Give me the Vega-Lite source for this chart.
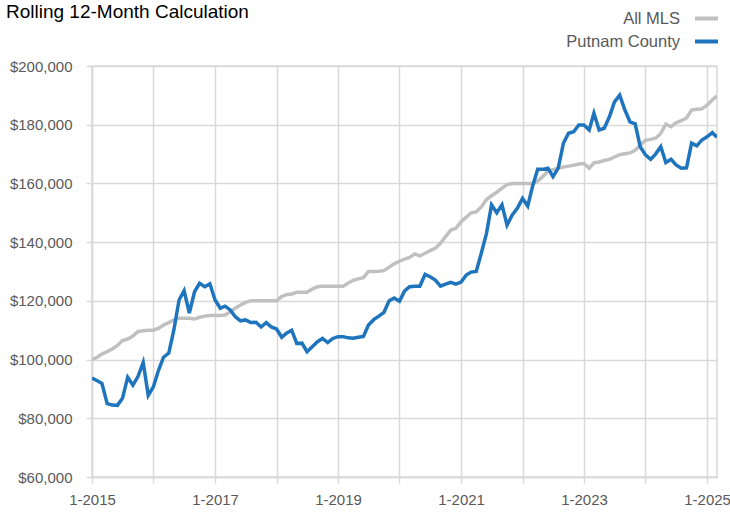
{
  "$schema": "https://vega.github.io/schema/vega-lite/v6.json",
  "width": 625,
  "height": 411,
  "autosize": {"type": "none"},
  "padding": {"left": 92, "top": 66, "right": 13, "bottom": 37},
  "background": "white",
  "config": {
    "font": "Liberation Sans, Arial, sans-serif",
    "view": {"stroke": "#d9d9d9", "strokeWidth": 1.5}
  },
  "title": {
    "text": "Rolling 12-Month Calculation",
    "anchor": "start",
    "frame": "group",
    "dx": -86,
    "dy": 21,
    "fontSize": 19,
    "fontWeight": "normal",
    "color": "#000000",
    "font": "Liberation Sans, Arial, sans-serif"
  },
  "data": {
    "values": [
      {"date": "2015-01", "All MLS": 100000, "Putnam County": 93700},
      {"date": "2015-02", "All MLS": 100800, "Putnam County": 92800},
      {"date": "2015-03", "All MLS": 101900, "Putnam County": 91900},
      {"date": "2015-04", "All MLS": 102700, "Putnam County": 85000},
      {"date": "2015-05", "All MLS": 103600, "Putnam County": 84500},
      {"date": "2015-06", "All MLS": 104800, "Putnam County": 84400},
      {"date": "2015-07", "All MLS": 106500, "Putnam County": 86800},
      {"date": "2015-08", "All MLS": 107000, "Putnam County": 94000},
      {"date": "2015-09", "All MLS": 108000, "Putnam County": 91300},
      {"date": "2015-10", "All MLS": 109600, "Putnam County": 94200},
      {"date": "2015-11", "All MLS": 109800, "Putnam County": 99000},
      {"date": "2015-12", "All MLS": 110000, "Putnam County": 87800},
      {"date": "2016-01", "All MLS": 110000, "Putnam County": 90800},
      {"date": "2016-02", "All MLS": 110700, "Putnam County": 96500},
      {"date": "2016-03", "All MLS": 111800, "Putnam County": 100800},
      {"date": "2016-04", "All MLS": 112600, "Putnam County": 102200},
      {"date": "2016-05", "All MLS": 113500, "Putnam County": 110000},
      {"date": "2016-06", "All MLS": 114100, "Putnam County": 120300},
      {"date": "2016-07", "All MLS": 114100, "Putnam County": 123500},
      {"date": "2016-08", "All MLS": 114100, "Putnam County": 115800},
      {"date": "2016-09", "All MLS": 113800, "Putnam County": 123100},
      {"date": "2016-10", "All MLS": 114400, "Putnam County": 126000},
      {"date": "2016-11", "All MLS": 114800, "Putnam County": 124800},
      {"date": "2016-12", "All MLS": 115000, "Putnam County": 125800},
      {"date": "2017-01", "All MLS": 115000, "Putnam County": 120300},
      {"date": "2017-02", "All MLS": 115000, "Putnam County": 117500},
      {"date": "2017-03", "All MLS": 115200, "Putnam County": 118200},
      {"date": "2017-04", "All MLS": 116300, "Putnam County": 116900},
      {"date": "2017-05", "All MLS": 117500, "Putnam County": 114600},
      {"date": "2017-06", "All MLS": 118600, "Putnam County": 113200},
      {"date": "2017-07", "All MLS": 119500, "Putnam County": 113500},
      {"date": "2017-08", "All MLS": 120000, "Putnam County": 112600},
      {"date": "2017-09", "All MLS": 120000, "Putnam County": 112700},
      {"date": "2017-10", "All MLS": 120000, "Putnam County": 111100},
      {"date": "2017-11", "All MLS": 120000, "Putnam County": 112600},
      {"date": "2017-12", "All MLS": 120000, "Putnam County": 111100},
      {"date": "2018-01", "All MLS": 120000, "Putnam County": 110400},
      {"date": "2018-02", "All MLS": 121500, "Putnam County": 107600},
      {"date": "2018-03", "All MLS": 122100, "Putnam County": 109000},
      {"date": "2018-04", "All MLS": 122300, "Putnam County": 110000},
      {"date": "2018-05", "All MLS": 122900, "Putnam County": 105500},
      {"date": "2018-06", "All MLS": 122900, "Putnam County": 105600},
      {"date": "2018-07", "All MLS": 122900, "Putnam County": 102700},
      {"date": "2018-08", "All MLS": 124000, "Putnam County": 104400},
      {"date": "2018-09", "All MLS": 124800, "Putnam County": 106100},
      {"date": "2018-10", "All MLS": 125000, "Putnam County": 107200},
      {"date": "2018-11", "All MLS": 125000, "Putnam County": 105800},
      {"date": "2018-12", "All MLS": 125000, "Putnam County": 107200},
      {"date": "2019-01", "All MLS": 125000, "Putnam County": 107800},
      {"date": "2019-02", "All MLS": 125000, "Putnam County": 107800},
      {"date": "2019-03", "All MLS": 126000, "Putnam County": 107400},
      {"date": "2019-04", "All MLS": 127000, "Putnam County": 107300},
      {"date": "2019-05", "All MLS": 127500, "Putnam County": 107600},
      {"date": "2019-06", "All MLS": 127900, "Putnam County": 107900},
      {"date": "2019-07", "All MLS": 130000, "Putnam County": 111800},
      {"date": "2019-08", "All MLS": 130000, "Putnam County": 113600},
      {"date": "2019-09", "All MLS": 130100, "Putnam County": 114800},
      {"date": "2019-10", "All MLS": 130300, "Putnam County": 116100},
      {"date": "2019-11", "All MLS": 131500, "Putnam County": 120000},
      {"date": "2019-12", "All MLS": 132600, "Putnam County": 121000},
      {"date": "2020-01", "All MLS": 133500, "Putnam County": 119900},
      {"date": "2020-02", "All MLS": 134200, "Putnam County": 123400},
      {"date": "2020-03", "All MLS": 134800, "Putnam County": 124800},
      {"date": "2020-04", "All MLS": 136000, "Putnam County": 125000},
      {"date": "2020-05", "All MLS": 135300, "Putnam County": 125000},
      {"date": "2020-06", "All MLS": 136200, "Putnam County": 129000},
      {"date": "2020-07", "All MLS": 137100, "Putnam County": 128200},
      {"date": "2020-08", "All MLS": 137900, "Putnam County": 127100},
      {"date": "2020-09", "All MLS": 139600, "Putnam County": 125000},
      {"date": "2020-10", "All MLS": 141900, "Putnam County": 125700},
      {"date": "2020-11", "All MLS": 144100, "Putnam County": 126300},
      {"date": "2020-12", "All MLS": 144700, "Putnam County": 125700},
      {"date": "2021-01", "All MLS": 147000, "Putnam County": 126400},
      {"date": "2021-02", "All MLS": 148500, "Putnam County": 128800},
      {"date": "2021-03", "All MLS": 150000, "Putnam County": 129800},
      {"date": "2021-04", "All MLS": 150300, "Putnam County": 130000},
      {"date": "2021-05", "All MLS": 152000, "Putnam County": 136200},
      {"date": "2021-06", "All MLS": 154500, "Putnam County": 143000},
      {"date": "2021-07", "All MLS": 155800, "Putnam County": 152700},
      {"date": "2021-08", "All MLS": 157000, "Putnam County": 150000},
      {"date": "2021-09", "All MLS": 158400, "Putnam County": 152700},
      {"date": "2021-10", "All MLS": 159600, "Putnam County": 145800},
      {"date": "2021-11", "All MLS": 160000, "Putnam County": 149300},
      {"date": "2021-12", "All MLS": 160000, "Putnam County": 151500},
      {"date": "2022-01", "All MLS": 160000, "Putnam County": 154900},
      {"date": "2022-02", "All MLS": 160000, "Putnam County": 152300},
      {"date": "2022-03", "All MLS": 160000, "Putnam County": 158900},
      {"date": "2022-04", "All MLS": 160800, "Putnam County": 164800},
      {"date": "2022-05", "All MLS": 162300, "Putnam County": 164800},
      {"date": "2022-06", "All MLS": 164200, "Putnam County": 165200},
      {"date": "2022-07", "All MLS": 164700, "Putnam County": 162300},
      {"date": "2022-08", "All MLS": 165200, "Putnam County": 165200},
      {"date": "2022-09", "All MLS": 165600, "Putnam County": 173700},
      {"date": "2022-10", "All MLS": 165900, "Putnam County": 177100},
      {"date": "2022-11", "All MLS": 166200, "Putnam County": 177600},
      {"date": "2022-12", "All MLS": 166600, "Putnam County": 179900},
      {"date": "2023-01", "All MLS": 166800, "Putnam County": 179900},
      {"date": "2023-02", "All MLS": 165200, "Putnam County": 178200},
      {"date": "2023-03", "All MLS": 167000, "Putnam County": 183900},
      {"date": "2023-04", "All MLS": 167300, "Putnam County": 178200},
      {"date": "2023-05", "All MLS": 167800, "Putnam County": 178800},
      {"date": "2023-06", "All MLS": 168200, "Putnam County": 182700},
      {"date": "2023-07", "All MLS": 169000, "Putnam County": 187800},
      {"date": "2023-08", "All MLS": 169800, "Putnam County": 190100},
      {"date": "2023-09", "All MLS": 170100, "Putnam County": 185000},
      {"date": "2023-10", "All MLS": 170400, "Putnam County": 181000},
      {"date": "2023-11", "All MLS": 171300, "Putnam County": 180300},
      {"date": "2023-12", "All MLS": 173000, "Putnam County": 172500},
      {"date": "2024-01", "All MLS": 174700, "Putnam County": 169700},
      {"date": "2024-02", "All MLS": 175000, "Putnam County": 168200},
      {"date": "2024-03", "All MLS": 175400, "Putnam County": 170000},
      {"date": "2024-04", "All MLS": 177000, "Putnam County": 172500},
      {"date": "2024-05", "All MLS": 180200, "Putnam County": 167100},
      {"date": "2024-06", "All MLS": 179300, "Putnam County": 168200},
      {"date": "2024-07", "All MLS": 180700, "Putnam County": 166300},
      {"date": "2024-08", "All MLS": 181400, "Putnam County": 165200},
      {"date": "2024-09", "All MLS": 182300, "Putnam County": 165300},
      {"date": "2024-10", "All MLS": 185000, "Putnam County": 173700},
      {"date": "2024-11", "All MLS": 185300, "Putnam County": 172800},
      {"date": "2024-12", "All MLS": 185400, "Putnam County": 174800},
      {"date": "2025-01", "All MLS": 186700, "Putnam County": 175900},
      {"date": "2025-02", "All MLS": 188400, "Putnam County": 177300},
      {"date": "2025-03", "All MLS": 189800, "Putnam County": 175700}
    ],
    "format": {"parse": {"date": "date:'%Y-%m'"}}
  },
  "transform": [
    {"fold": ["All MLS", "Putnam County"], "as": ["series", "value"]}
  ],
  "mark": {"type": "line", "strokeWidth": 3.5, "clip": true},
  "encoding": {
    "x": {
      "field": "date",
      "type": "temporal",
      "title": null,
      "scale": {
        "domain": [
          {"year": 2015, "month": 1, "date": 1},
          {"year": 2025, "month": 3, "date": 1}
        ],
        "nice": false
      },
      "axis": {
        "values": [
          {"year": 2015, "month": 1, "date": 1},
          {"year": 2016, "month": 1, "date": 1},
          {"year": 2017, "month": 1, "date": 1},
          {"year": 2018, "month": 1, "date": 1},
          {"year": 2019, "month": 1, "date": 1},
          {"year": 2020, "month": 1, "date": 1},
          {"year": 2021, "month": 1, "date": 1},
          {"year": 2022, "month": 1, "date": 1},
          {"year": 2023, "month": 1, "date": 1},
          {"year": 2024, "month": 1, "date": 1},
          {"year": 2025, "month": 1, "date": 1}
        ],
        "labelExpr": "year(datum.value) % 2 == 1 ? '1-' + year(datum.value) : ''",
        "labelFontSize": 15,
        "labelColor": "#595959",
        "labelPadding": 9,
        "labelFlush": false,
        "labelOverlap": false,
        "tickSize": 6,
        "tickColor": "#d9d9d9",
        "tickWidth": 1.5,
        "domainColor": "#d9d9d9",
        "domainWidth": 1.5,
        "grid": true,
        "gridColor": "#d9d9d9",
        "gridWidth": 1.5
      }
    },
    "y": {
      "field": "value",
      "type": "quantitative",
      "title": null,
      "scale": {"domain": [60000, 200000], "nice": false, "zero": false},
      "axis": {
        "values": [60000, 80000, 100000, 120000, 140000, 160000, 180000, 200000],
        "format": "$,.0f",
        "labelFontSize": 15,
        "labelColor": "#595959",
        "labelPadding": 14,
        "tickSize": 6,
        "tickColor": "#d9d9d9",
        "tickWidth": 1.5,
        "domainColor": "#d9d9d9",
        "domainWidth": 1.5,
        "grid": true,
        "gridColor": "#d9d9d9",
        "gridWidth": 1.5
      }
    },
    "color": {
      "field": "series",
      "type": "nominal",
      "scale": {"domain": ["All MLS", "Putnam County"], "range": ["#c0c0c0", "#1f75bd"]},
      "legend": {
        "title": null,
        "orient": "none",
        "legendX": 601,
        "legendY": -61,
        "direction": "vertical",
        "symbolType": "stroke",
        "symbolSize": 529,
        "symbolStrokeWidth": 4,
        "labelAlign": "right",
        "labelOffset": -40,
        "labelFontSize": 16.5,
        "labelColor": "#595959",
        "rowPadding": 1,
        "padding": 0
      }
    }
  }
}
